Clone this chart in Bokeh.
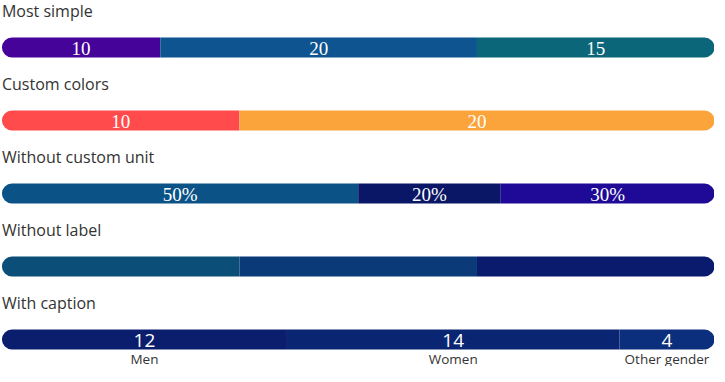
from bokeh.plotting import figure
from bokeh.models import Range1d
from bokeh.core.properties import value
from bokeh.embed import file_html
from bokeh.resources import INLINE

# ---- data ----
titles = ["Most simple", "Custom colors", "Without custom unit", "Without label", "With caption"]

row1_values = [10, 20, 15]
row1_colors = ["#46039A", "#0E5490", "#0A6678"]

row2_values = [10, 20]
row2_colors = ["#FF4B4B", "#FBA43B"]

row3_values = [50, 20, 30]
row3_colors = ["#0B5387", "#0A1766", "#1E0A96"]

row4_values = [1, 1, 1]
row4_colors = ["#0B4E78", "#0A3A78", "#0A1A6C"]

row5_values = [12, 14, 4]
row5_colors = ["#0B1E6E", "#0A2672", "#0B2F7C"]
row5_captions = ["Men", "Women", "Other gender"]

rows = [
    (row1_values, row1_colors, [str(v) for v in row1_values], None, "Liberation Serif"),
    (row2_values, row2_colors, [str(v) for v in row2_values], None, "Liberation Serif"),
    (row3_values, row3_colors, [f"{v}%" for v in row3_values], None, "Liberation Serif"),
    (row4_values, row4_colors, None, None, None),
    (row5_values, row5_colors, [str(v) for v in row5_values], row5_captions, "Open Sans"),
]

# ---- layout ----
W, H = 714, 366
ROW_STEP = 73
TITLE_Y = 10
BAR_TOP = 37
BAR_H = 20
R = 10

p = figure(width=W, height=H, x_range=Range1d(-0.002, 1.0), y_range=Range1d(H, 0),
           output_backend="svg", toolbar_location=None, min_border=0)
p.axis.visible = False
p.grid.visible = False
p.outline_line_color = None
p.background_fill_color = "white"
p.border_fill_color = "white"

for i, (vals, cols, labels, caps, lfont) in enumerate(rows):
    off = i * ROW_STEP
    top = BAR_TOP + off
    bottom = top + BAR_H
    total = float(sum(vals))
    lefts, rights = [], []
    acc = 0.0
    for v in vals:
        lefts.append(acc / total)
        acc += v
        rights.append(acc / total)
    n = len(vals)
    for j in range(n):
        tl = R if j == 0 else 0
        tr = R if j == n - 1 else 0
        p.quad(left=[lefts[j]], right=[rights[j]], top=[top], bottom=[bottom],
               fill_color=cols[j], line_color=None,
               border_radius=(tl, tr, tr, tl))
    p.text(x=[0.0], y=[TITLE_Y + off], text=[titles[i]],
           text_font=value("Open Sans"), text_font_size="16px",
           text_color="#333333", text_align="left", text_baseline="middle")
    centers = [(l + r) / 2 for l, r in zip(lefts, rights)]
    if labels:
        p.text(x=centers, y=[top + BAR_H / 2 + 1] * n, text=labels,
               text_font=value(lfont), text_font_size="19px", text_color="white",
               text_align="center", text_baseline="middle")
    if caps:
        p.text(x=centers, y=[bottom + 9] * n, text=caps,
               text_font=value("Open Sans"), text_font_size="13.5px", text_color="#333333",
               text_align="center", text_baseline="middle")

open("out.html", "w").write(file_html(p, INLINE))
